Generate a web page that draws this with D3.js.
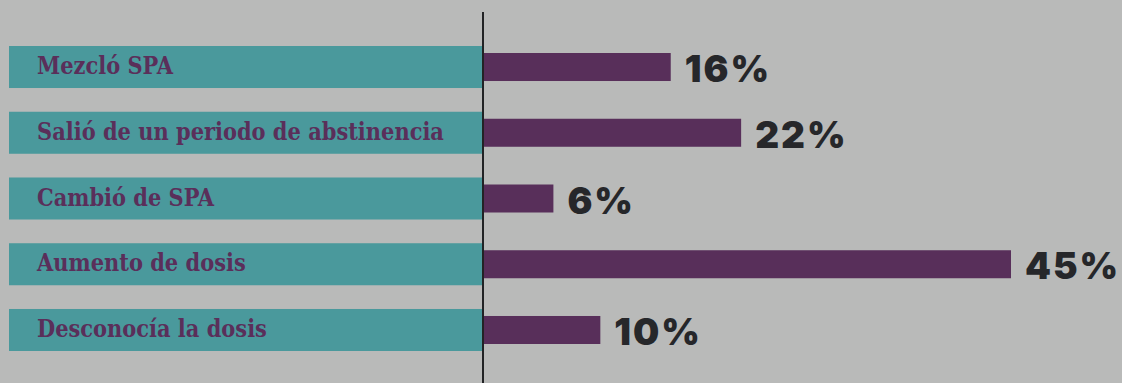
<!DOCTYPE html>
<html>
<head>
<meta charset="utf-8">
<script src="https://cdn.jsdelivr.net/npm/d3@7"></script>
<style>
  html, body { margin: 0; padding: 0; background: #b9bab9; }
  svg { display: block; }
</style>
</head>
<body>
<svg id="chart" width="1122" height="383"></svg>
<script>
// Motivos y porcentajes
const categories = [
  "Mezcló SPA",
  "Salió de un periodo de abstinencia",
  "Cambió de SPA",
  "Aumento de dosis",
  "Desconocía la dosis"
];
const values = [16, 22, 6, 45, 10];
const valueLabels = ["16%", "22%", "6%", "45%", "10%"];

const W = 1122, H = 383;
const axisX = 483;
const svg = d3.select("#chart");

svg.append("rect").attr("width", W).attr("height", H).attr("fill", "#b9bab9");

const y = d3.scaleBand()
  .domain(categories)
  .range([46, 351])
  .paddingInner(0.361)
  .paddingOuter(0);

const x = d3.scaleLinear()
  .domain([0, 45])
  .range([axisX, 1011]);

const rows = svg.selectAll("g.row")
  .data(categories)
  .join("g")
  .attr("class", "row");

// teal label bands
rows.append("rect")
  .attr("x", 9)
  .attr("y", d => y(d))
  .attr("width", axisX - 9)
  .attr("height", y.bandwidth())
  .attr("fill", "#4a999c");

const catText = rows.append("text")
  .attr("x", 37)
  .attr("y", d => y(d) + y.bandwidth() / 2 + 7)
  .attr("fill", "#5a2f5a")
  .style("font-family", "'DejaVu Serif Condensed', 'DejaVu Serif', serif")
  .style("font-stretch", "condensed")
  .style("font-weight", "700")
  .style("font-size", "20px")
  .text(d => d);

// size the category font so the longest label spans 407px
const longest = d3.max(catText.nodes(), n => n.getComputedTextLength());
const catSize = Math.min(24, 20 * 407 / longest);
catText.style("font-size", catSize.toFixed(2) + "px");

// purple bars
const barH = 28;
rows.append("rect")
  .attr("x", x(0))
  .attr("y", d => y(d) + y.bandwidth() / 2 - barH / 2)
  .attr("width", (d, i) => x(values[i]) - x(0))
  .attr("height", barH)
  .attr("fill", "#582f5a");

rows.append("text")
  .attr("x", (d, i) => x(values[i]) + 14)
  .attr("y", d => y(d) + y.bandwidth() / 2 + 15)
  .attr("fill", "#26272a")
  .style("font-family", "Inter, 'Open Sans', sans-serif")
  .style("font-weight", "900")
  .style("font-size", "37px")
  .style("letter-spacing", "2px")
  .text((d, i) => valueLabels[i]);

// vertical axis line
svg.append("line")
  .attr("x1", axisX).attr("x2", axisX)
  .attr("y1", 12).attr("y2", H)
  .attr("stroke", "#222325")
  .attr("stroke-width", 2);
</script>
</body>
</html>
